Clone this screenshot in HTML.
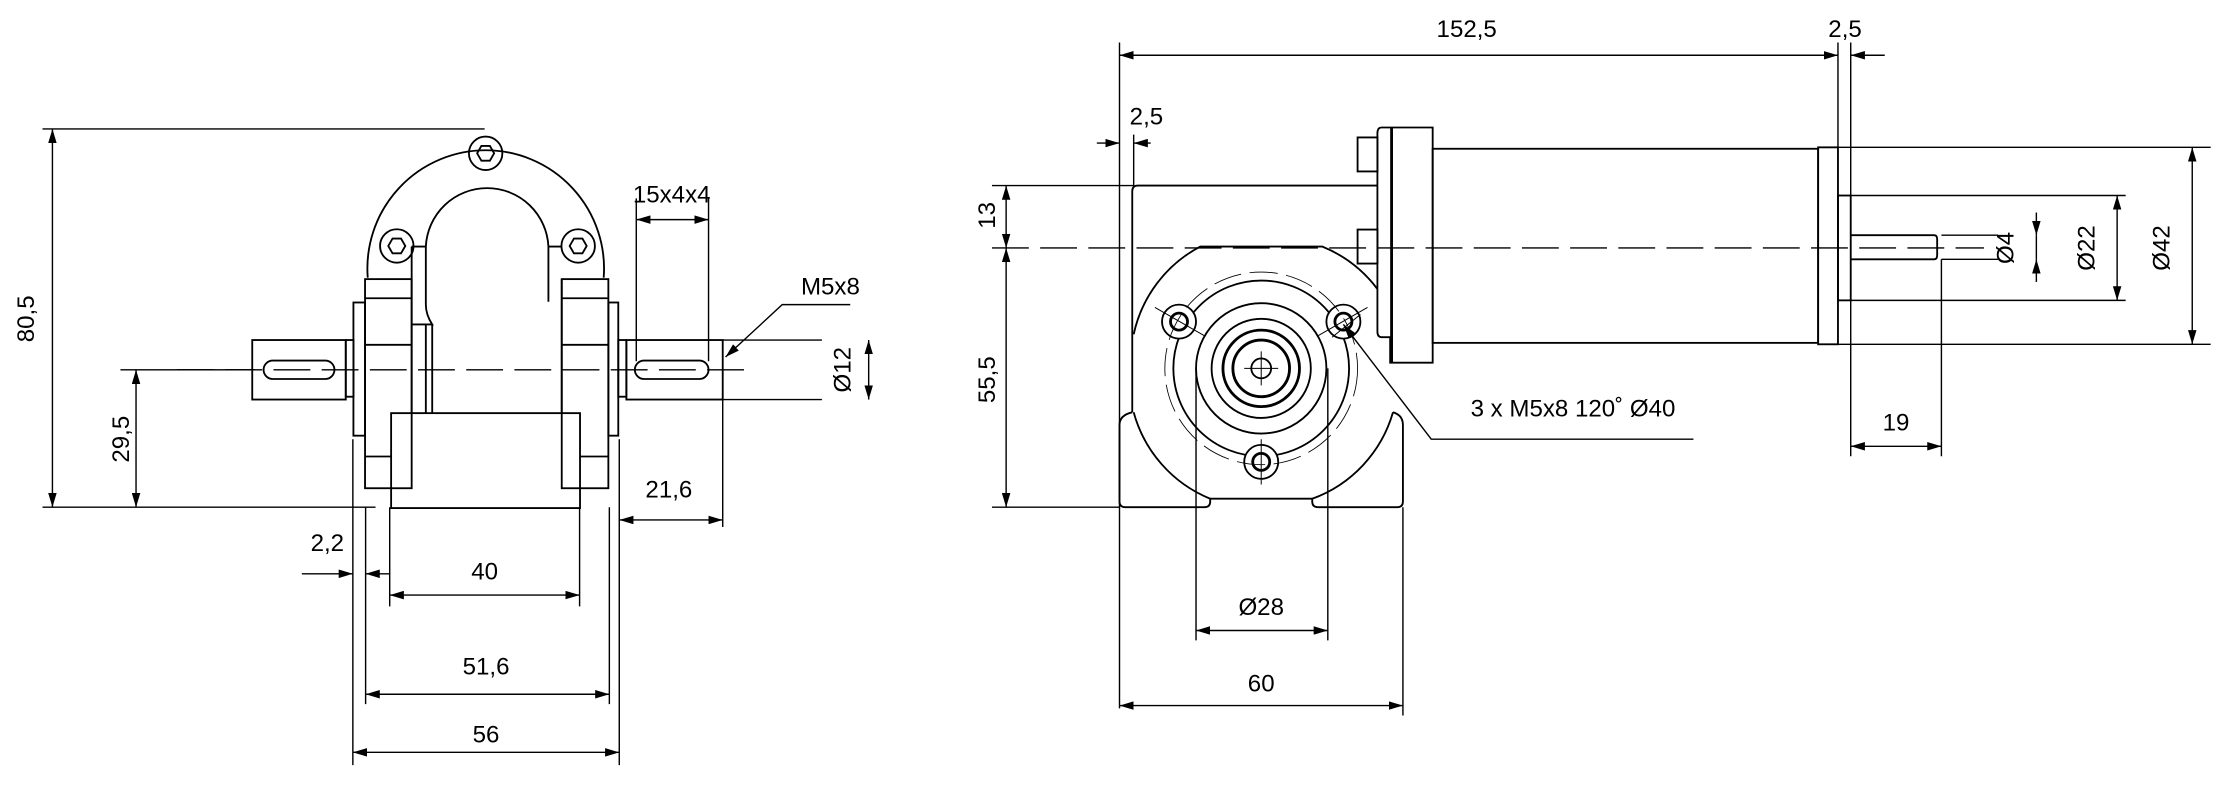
<!DOCTYPE html>
<html><head><meta charset="utf-8"><style>
html,body{margin:0;padding:0;background:#fff;}
svg{display:block}
text{font-family:"Liberation Sans",sans-serif;font-size:17px;fill:#000}
</style></head><body>
<svg width="2222" height="792" viewBox="0 0 1568 559" preserveAspectRatio="none" xmlns="http://www.w3.org/2000/svg">
<defs>
<marker id="a" viewBox="0 0 10 6" refX="10" refY="3" markerWidth="10" markerHeight="6" orient="auto-start-reverse" markerUnits="userSpaceOnUse"><path d="M0,0L10,3L0,6z" fill="#000"/></marker>
</defs>
<g fill="none" stroke="#000" stroke-width="1">
<!-- LEFT VIEW -->
<g stroke-width="1.3">
<path d="M259.5,196 A83.5,83.5 0 1 1 426,196"/>
<path d="M300.5,174 A43.3,43.3 0 0 1 387,174"/>
<circle cx="342.7" cy="108.2" r="11.8"/><polygon points="348.7,108.2 345.7,103 339.7,103 336.7,108.2 339.7,113.4 345.7,113.4"/>
<circle cx="280" cy="173.6" r="11.8"/><polygon points="286,173.6 283,168.4 277,168.4 274,173.6 277,178.8 283,178.8"/>
<circle cx="408" cy="173.6" r="11.8"/><polygon points="414,173.6 411,168.4 405,168.4 402,173.6 405,178.8 411,178.8"/>
<path d="M290.5,174H300.5V215Q300.5,222 305,229H290.5V174"/>
<path d="M290.5,229V292M300.5,229V292M305,229V292"/>
<path d="M387,174H396.4M387,174V213"/>
<rect x="257.6" y="197" width="32.9" height="147.6"/>
<path d="M257.6,210.5H290.5M257.6,243.4H290.5M257.6,322.2H276"/>
<rect x="249.4" y="213.5" width="8.2" height="94"/>
<rect x="244" y="240" width="5.4" height="40"/>
<rect x="396.4" y="197" width="32.9" height="147.6"/>
<path d="M396.4,210.5H429.3M396.4,243.4H429.3M409.3,322.2H429.3M396.4,197V292"/>
<rect x="429.3" y="213.5" width="7" height="94"/>
<rect x="436.3" y="240" width="5.7" height="40"/>
<rect x="276" y="291.6" width="133.3" height="67"/>
<rect x="178" y="240" width="66" height="42"/>
<rect x="186" y="254.5" width="50" height="13" rx="6.5"/>
<rect x="442" y="240" width="68" height="42"/>
<rect x="448" y="254.5" width="52" height="13" rx="6.5"/>
</g>
<path d="M125,261H530" stroke-dasharray="26,8"/>
<!-- left dims -->
<path d="M30,91H342M30,358H265M85,261H180"/>
<path d="M37,91V358" marker-start="url(#a)" marker-end="url(#a)"/>
<path d="M96,261V358" marker-start="url(#a)" marker-end="url(#a)"/>
<path d="M449,140V255M500,140V255"/>
<path d="M449,155H500" marker-start="url(#a)" marker-end="url(#a)"/>
<path d="M600,215H552L512,252" marker-end="url(#a)"/>
<path d="M510,240H580M510,282H580"/>
<path d="M613,240V282" marker-start="url(#a)" marker-end="url(#a)"/>
<path d="M510,282V372M437,310V540M249,310V540M258,358V497M430,358V497M275,358V428M409,358V428"/>
<path d="M437,367H510" marker-start="url(#a)" marker-end="url(#a)"/>
<path d="M213,405H249" marker-end="url(#a)"/>
<path d="M275,405H258" marker-end="url(#a)"/>
<path d="M275,420H409" marker-start="url(#a)" marker-end="url(#a)"/>
<path d="M258,490H430" marker-start="url(#a)" marker-end="url(#a)"/>
<path d="M249,531H437" marker-start="url(#a)" marker-end="url(#a)"/>

<!-- RIGHT VIEW -->
<g stroke-width="1.3">
<path d="M972,131H803Q799,131 799,135V291"/>
<path d="M799,291Q790,293 790,300V354Q790,358 794,358H850Q854,358 854,354V352H926V354Q926,358 930,358H986Q990,358 990,354V300Q990,293 983,291"/>
<path d="M800,236A92,92 0 0 1 847,174H933A92,92 0 0 1 972,204"/>
<path d="M800,291A92,92 0 0 0 854,352M926,352A92,92 0 0 0 983,291"/>
<circle cx="890" cy="260" r="46"/>
<circle cx="890" cy="260" r="35"/>
<circle cx="890" cy="260" r="27" stroke-width="2"/>
<circle cx="890" cy="260" r="20" stroke-width="2"/>
<circle cx="890" cy="260" r="7"/>
<circle cx="890" cy="260" r="62"/>
<circle cx="832" cy="227" r="12" fill="#fff"/><circle cx="832" cy="227" r="6" stroke-width="2"/>
<circle cx="948" cy="227" r="12" fill="#fff"/><circle cx="948" cy="227" r="6" stroke-width="2"/>
<circle cx="890" cy="326" r="12" fill="#fff"/><circle cx="890" cy="326" r="6" stroke-width="2"/>
<path d="M958,97H972V121H958zM958,162H972V186H958z"/>
<path d="M975,90H1011V256H981V238H975Q972,238 972,234V94Q972,90 975,90"/>
<path d="M982,90V256" stroke-width="2"/>
<rect x="1011" y="105" width="272" height="137" />
<rect x="1283" y="104" width="14" height="139"/>
<rect x="1297" y="138" width="9" height="74"/>
<path d="M1306,166H1365Q1367,166 1367,169V180Q1367,183 1365,183H1306"/>
</g>
<circle cx="890" cy="260" r="68" stroke-width="0.6" stroke-dasharray="20,6"/>
<path d="M878,260H902M890,248V272M815,217L850,237M930,237L965,217M890,310V342M940,238L960,222" stroke-width="0.7"/>
<path d="M700,175H1400" stroke-dasharray="26,8"/>
<!-- right dims -->
<path d="M790,30V500M1297,30V104M1306,30V138"/>
<path d="M790,39H1297" marker-start="url(#a)" marker-end="url(#a)"/>
<path d="M1330,39H1306" marker-end="url(#a)"/>
<path d="M774,101H790" marker-end="url(#a)"/>
<path d="M812,101H800" marker-end="url(#a)"/>
<path d="M800,95V131M700,131H800M700,358H790"/>
<path d="M710,131V175" marker-start="url(#a)" marker-end="url(#a)"/>
<path d="M710,175V358" marker-start="url(#a)" marker-end="url(#a)"/>
<path d="M1370,166H1410M1370,183H1410M1306,138H1500M1306,212H1500M1297,104H1560M1297,243H1560"/>
<path d="M1437,150V166" marker-end="url(#a)"/><path d="M1437,199V183" marker-end="url(#a)"/><path d="M1437,166V183"/>
<path d="M1494,138V212" marker-start="url(#a)" marker-end="url(#a)"/>
<path d="M1547,104V243" marker-start="url(#a)" marker-end="url(#a)"/>
<path d="M1306,212V322M1370,183V322"/>
<path d="M1306,315H1370" marker-start="url(#a)" marker-end="url(#a)"/>
<path d="M1195,310H1010L948,229" marker-end="url(#a)"/>
<path d="M844,260V452M937,260V452"/>
<path d="M844,445H937" marker-start="url(#a)" marker-end="url(#a)"/>
<path d="M790,498H990" marker-start="url(#a)" marker-end="url(#a)"/>
<path d="M990,358V505"/>
</g>
<!-- text -->
<text x="0" y="0" transform="translate(24,225) rotate(-90)" text-anchor="middle">80,5</text>
<text x="0" y="0" transform="translate(103,310) rotate(-90)" text-anchor="middle" dx="0" dy="-12">29,5</text>
<text x="474" y="143" text-anchor="middle">15x4x4</text>
<text x="586" y="208" text-anchor="middle">M5x8</text>
<text x="0" y="0" transform="translate(600,261) rotate(-90)" text-anchor="middle">Ø12</text>
<text x="472" y="351" text-anchor="middle">21,6</text>
<text x="231" y="389" text-anchor="middle">2,2</text>
<text x="342" y="409" text-anchor="middle">40</text>
<text x="343" y="476" text-anchor="middle">51,6</text>
<text x="343" y="524" text-anchor="middle">56</text>
<text x="1035" y="26" text-anchor="middle">152,5</text>
<text x="1302" y="26" text-anchor="middle">2,5</text>
<text x="809" y="88" text-anchor="middle">2,5</text>
<text x="0" y="0" transform="translate(702,152) rotate(-90)" text-anchor="middle">13</text>
<text x="0" y="0" transform="translate(702,268) rotate(-90)" text-anchor="middle">55,5</text>
<text x="0" y="0" transform="translate(1421,175) rotate(-90)" text-anchor="middle">Ø4</text>
<text x="0" y="0" transform="translate(1478,175) rotate(-90)" text-anchor="middle">Ø22</text>
<text x="0" y="0" transform="translate(1531,175) rotate(-90)" text-anchor="middle">Ø42</text>
<text x="1338" y="304" text-anchor="middle">19</text>
<text x="1110" y="294" text-anchor="middle">3 x M5x8 120˚ Ø40</text>
<text x="890" y="434" text-anchor="middle">Ø28</text>
<text x="890" y="488" text-anchor="middle">60</text>
</svg>
</body></html>
